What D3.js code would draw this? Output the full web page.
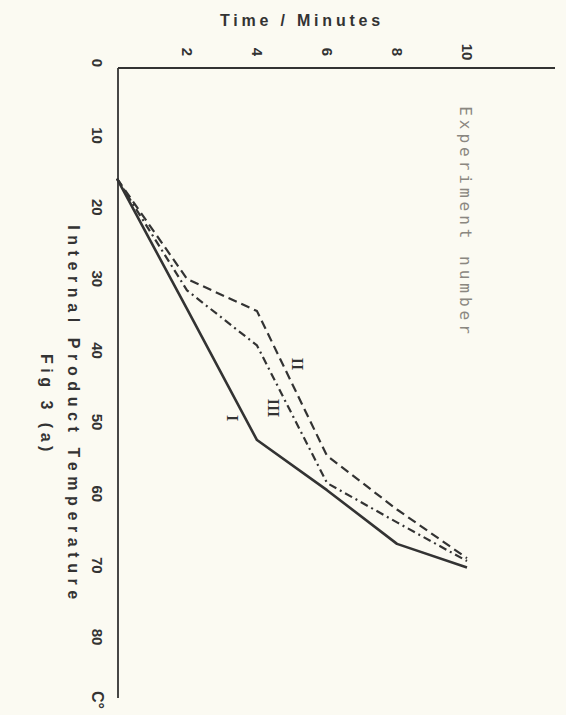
<!DOCTYPE html>
<html>
<head>
<meta charset="utf-8">
<script src="https://cdn.jsdelivr.net/npm/d3@7"></script>
<style>
  body { margin: 0; background: #fbfaf2; }
  svg { display: block; }
</style>
</head>
<body>
<div id="chart"></div>
<script>
// time in minutes, temperature in degrees C
var times = [0, 2, 4, 6, 8, 10];
var expI = [16, 34.2, 52.5, 59.5, 67, 70.3];
var expII = [16, 30, 34.5, 54.7, 62.2, 69];
var expIII = [16, 31.6, 39.3, 58.5, 64, 69.4];
var timeTicks = [2, 4, 6, 8, 10];
var tempTicks = [0, 10, 20, 30, 40, 50, 60, 70, 80];

var width = 566, height = 715;
var ink = "#333";

var x = d3.scaleLinear().domain([0, 10]).range([117, 467]);
var y = d3.scaleLinear().domain([0, 80]).range([64, 637]);

var svg = d3.select("#chart")
  .append("svg")
  .attr("width", width)
  .attr("height", height);

svg.append("rect")
  .attr("width", width)
  .attr("height", height)
  .attr("fill", "#fbfaf2");

// axes
svg.append("line")
  .attr("x1", 118).attr("x2", 555)
  .attr("y1", 68).attr("y2", 68)
  .attr("stroke", ink).attr("stroke-width", 2);
svg.append("line")
  .attr("x1", 118).attr("x2", 118)
  .attr("y1", 68).attr("y2", 698)
  .attr("stroke", ink).attr("stroke-width", 1.8);

var rotText = function(sel, px, py) {
  return sel.attr("transform", "translate(" + px + "," + py + ") rotate(90)")
    .attr("text-anchor", "middle")
    .attr("dominant-baseline", "central");
};

var bold = function(sel, size) {
  return sel.attr("font-family", "Liberation Sans, Arial, sans-serif")
    .attr("font-weight", "bold")
    .attr("font-size", size)
    .attr("fill", ink);
};

// time tick labels
svg.selectAll(".tt")
  .data(timeTicks)
  .enter()
  .append("text")
  .attr("class", "tt")
  .each(function(d) { rotText(d3.select(this), x(d), 52); bold(d3.select(this), 15); })
  .text(function(d) { return d; });

// temperature tick labels
svg.selectAll(".yt")
  .data(tempTicks)
  .enter()
  .append("text")
  .attr("class", "yt")
  .each(function(d) { rotText(d3.select(this), 97, y(d) - (d === 0 ? 1 : 0)); bold(d3.select(this), 15); })
  .text(function(d) { return d; });

bold(rotText(svg.append("text"), 97, 700), 16).text("C°");

// titles
bold(svg.append("text"), 16)
  .attr("x", 302).attr("y", 20)
  .attr("text-anchor", "middle")
  .attr("dominant-baseline", "central")
  .attr("letter-spacing", 3.8)
  .text("Time / Minutes");

bold(rotText(svg.append("text"), 73, 415), 16)
  .attr("letter-spacing", 5.6)
  .text("Internal Product Temperature");

bold(rotText(svg.append("text"), 46, 405), 16)
  .attr("letter-spacing", 4.5)
  .text("Fig 3 (a)");

rotText(svg.append("text"), 465, 222)
  .attr("font-family", "DejaVu Sans Mono, monospace")
  .attr("font-size", 16)
  .attr("letter-spacing", 4)
  .attr("fill", "#8a8780")
  .text("Experiment number");

// series
var series = [
  { name: "I", values: expI, dash: null, width: 2.6, lx: 232, ly: 418 },
  { name: "II", values: expII, dash: "9,5", width: 2.2, lx: 297, ly: 364 },
  { name: "III", values: expIII, dash: "8,4,2,4", width: 2.2, lx: 273, ly: 408 }
];

var line = d3.line()
  .x(function(d, i) { return x(times[i]); })
  .y(function(d) { return y(d); })
  .curve(d3.curveLinear);

svg.selectAll(".series")
  .data(series)
  .enter()
  .append("path")
  .attr("class", "series")
  .attr("d", function(d) { return line(d.values); })
  .attr("fill", "none")
  .attr("stroke", ink)
  .attr("stroke-width", function(d) { return d.width; })
  .attr("stroke-dasharray", function(d) { return d.dash; })
  .attr("stroke-linejoin", "round");

svg.selectAll(".lab")
  .data(series)
  .enter()
  .append("text")
  .attr("class", "lab")
  .each(function(d) { rotText(d3.select(this), d.lx, d.ly); })
  .attr("font-family", "Liberation Serif, serif")
  .attr("font-weight", "bold")
  .attr("font-size", 16)
  .attr("fill", ink)
  .text(function(d) { return d.name; });
</script>
</body>
</html>
